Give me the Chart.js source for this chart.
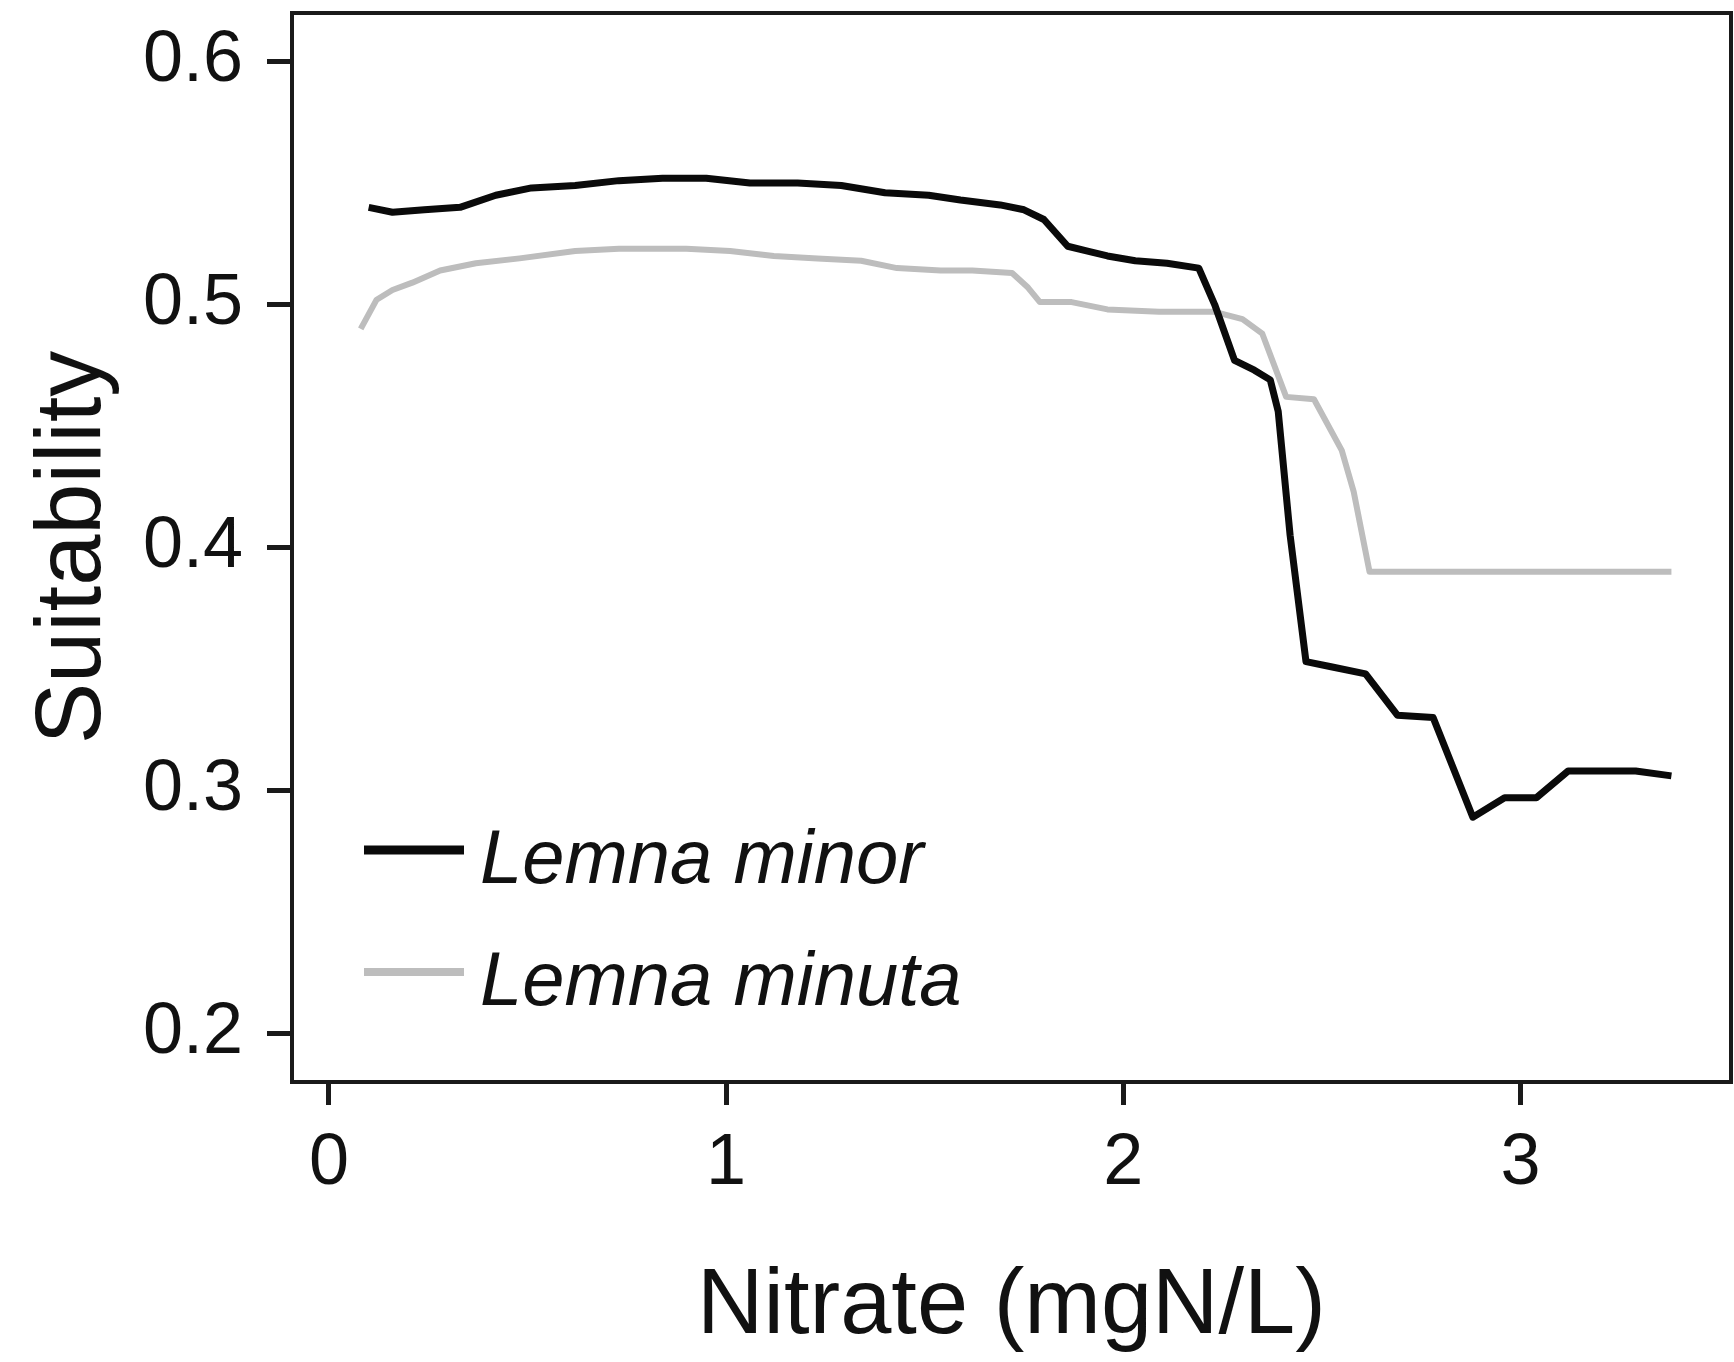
<!DOCTYPE html>
<html>
<head>
<meta charset="utf-8">
<script src="https://cdn.jsdelivr.net/npm/chart.js@4"></script>
<style>
  body { margin: 0; background: #fff; }
  canvas { display: block; }
</style>
</head>
<body>
<canvas id="chart" width="1734" height="1362"></canvas>
<script>
// Lemna minor (black)
var minorX = [0.10, 0.16, 0.24, 0.33, 0.42, 0.51, 0.62, 0.73, 0.84, 0.95, 1.06, 1.18, 1.29, 1.40, 1.51, 1.59, 1.69, 1.75, 1.80, 1.86, 1.91, 1.96, 2.03, 2.11, 2.19, 2.23, 2.28, 2.33, 2.37, 2.39, 2.42, 2.46, 2.52, 2.61, 2.69, 2.78, 2.88, 2.96, 3.04, 3.12, 3.20, 3.29, 3.38];
var minorY = [0.540, 0.538, 0.539, 0.540, 0.545, 0.548, 0.549, 0.551, 0.552, 0.552, 0.550, 0.550, 0.549, 0.546, 0.545, 0.543, 0.541, 0.539, 0.535, 0.524, 0.522, 0.520, 0.518, 0.517, 0.515, 0.500, 0.477, 0.473, 0.469, 0.456, 0.405, 0.353, 0.351, 0.348, 0.331, 0.330, 0.289, 0.297, 0.297, 0.308, 0.308, 0.308, 0.306];

// Lemna minuta (grey)
var minutaX = [0.08, 0.12, 0.16, 0.21, 0.28, 0.37, 0.48, 0.62, 0.73, 0.90, 1.01, 1.12, 1.23, 1.34, 1.43, 1.54, 1.62, 1.72, 1.76, 1.79, 1.87, 1.96, 2.09, 2.23, 2.30, 2.35, 2.41, 2.48, 2.55, 2.58, 2.62, 3.00, 3.38];
var minutaY = [0.490, 0.502, 0.506, 0.509, 0.514, 0.517, 0.519, 0.522, 0.523, 0.523, 0.522, 0.520, 0.519, 0.518, 0.515, 0.514, 0.514, 0.513, 0.507, 0.501, 0.501, 0.498, 0.497, 0.497, 0.494, 0.488, 0.462, 0.461, 0.440, 0.423, 0.390, 0.390, 0.390];

var seriesNames = ["Lemna minor", "Lemna minuta"];
var xTicks = [0, 1, 2, 3];
var yTicks = [0.2, 0.3, 0.4, 0.5, 0.6];

var FONT = '"Liberation Sans", Arial, sans-serif';
var INK = '#111111';

function toPoints(xs, ys) {
  return xs.map((x, i) => ({ x: x, y: ys[i] }));
}

// box round the plot and the legend inside it
var framePlugin = {
  id: 'frame',
  afterDraw(chart) {
    var a = chart.chartArea;
    var ctx = chart.ctx;
    ctx.save();
    ctx.strokeStyle = '#1a1a1a';
    ctx.lineWidth = 4;
    ctx.strokeRect(a.left, a.top, a.right - a.left, a.bottom - a.top);

    chart.data.datasets.forEach((ds, i) => {
      var y = a.bottom - 232 + i * 122;
      ctx.strokeStyle = ds.borderColor;
      ctx.lineWidth = ds.borderWidth + 2;
      ctx.beginPath();
      ctx.moveTo(a.left + 72, y);
      ctx.lineTo(a.left + 172, y);
      ctx.stroke();
      ctx.fillStyle = INK;
      ctx.font = 'italic 76px ' + FONT;
      ctx.textBaseline = 'alphabetic';
      ctx.textAlign = 'left';
      ctx.fillText(ds.label, a.left + 188, y + 33);
    });
    ctx.restore();
  }
};

new Chart(document.getElementById("chart"), {
  type: 'line',
  data: {
    datasets: [
      {
        label: seriesNames[0],
        data: toPoints(minorX, minorY),
        borderColor: '#0a0a0a',
        borderWidth: 7,
        pointRadius: 0,
        tension: 0,
        borderJoinStyle: 'round'
      },
      {
        label: seriesNames[1],
        data: toPoints(minutaX, minutaY),
        borderColor: '#bdbdbd',
        borderWidth: 6,
        pointRadius: 0,
        tension: 0,
        borderJoinStyle: 'round'
      }
    ]
  },
  options: {
    responsive: false,
    animation: false,
    layout: { padding: { top: 13, right: 3, left: 0, bottom: 0 } },
    plugins: {
      legend: { display: false },
      tooltip: { enabled: false }
    },
    scales: {
      x: {
        type: 'linear',
        min: -0.093,
        max: 3.53,
        afterFit: s => { s.height = 280; s.paddingLeft = 0; s.paddingRight = 0; },
        afterBuildTicks: s => { s.ticks = xTicks.map(v => ({ value: v })); },
        ticks: {
          color: INK,
          padding: 16,
          font: { family: FONT, size: 72 },
          callback: v => String(v)
        },
        grid: { drawOnChartArea: false, tickLength: 23, tickWidth: 5, tickColor: '#1a1a1a' },
        border: { display: false },
        title: {
          display: true,
          text: 'Nitrate (mgN/L)',
          color: INK,
          font: { family: FONT, size: 92, lineHeight: 1 },
          padding: { top: 0, bottom: 8 }
        }
      },
      y: {
        min: 0.18,
        max: 0.62,
        afterFit: s => { s.width = 292; s.paddingTop = 0; s.paddingBottom = 0; },
        afterBuildTicks: s => { s.ticks = yTicks.map(v => ({ value: v })); },
        ticks: {
          color: INK,
          padding: 24,
          font: { family: FONT, size: 72 },
          callback: v => v.toFixed(1)
        },
        grid: { drawOnChartArea: false, tickLength: 25, tickWidth: 5, tickColor: '#1a1a1a' },
        border: { display: false },
        title: {
          display: true,
          text: 'Suitability',
          color: INK,
          font: { family: FONT, size: 92, lineHeight: 1.2 },
          padding: { top: 19, bottom: 0 }
        }
      }
    }
  },
  plugins: [framePlugin]
});
</script>
</body>
</html>
